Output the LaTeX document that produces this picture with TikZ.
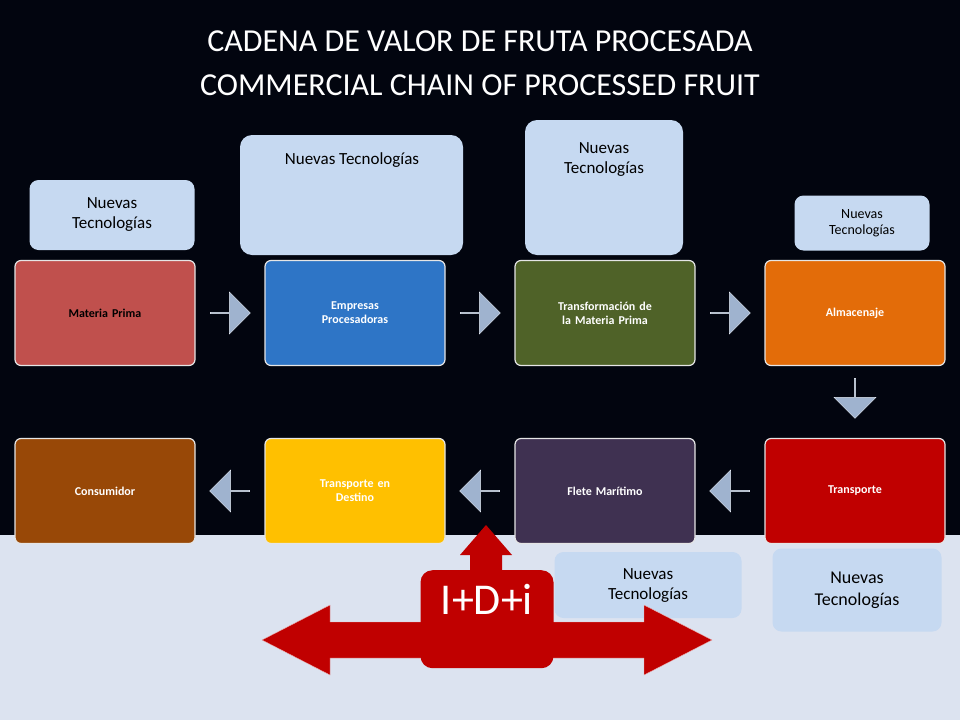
\documentclass[tikz,border=0pt]{standalone}
\usepackage{fontspec}
\setmainfont{Carlito}
\usetikzlibrary{shapes.arrows}
\definecolor{navy}{HTML}{02050F}
\definecolor{pale}{HTML}{DCE3F0}
\definecolor{techblue}{HTML}{C6D9F1}
\definecolor{chev}{HTML}{9FB3CF}
\definecolor{cRed}{HTML}{C0504D}
\definecolor{cBlue}{HTML}{2E75C6}
\definecolor{cOlive}{HTML}{4F6228}
\definecolor{cOrange}{HTML}{E36C09}
\definecolor{cBrown}{HTML}{984807}
\definecolor{cYellow}{HTML}{FFC000}
\definecolor{cPurple}{HTML}{3F3151}
\definecolor{cDark}{HTML}{C00000}
\tikzset{
  stage/.style={draw=white!80!gray, line width=1.2pt, rounded corners=6pt,
    minimum width=180pt, minimum height=105pt, text width=150pt, align=center,
    text=white, font=\fontsize{12}{14}\selectfont\bfseries},
  tech/.style={fill=techblue, rounded corners=9pt, align=center,
    font=\fontsize{17}{20}\selectfont},
  chevron/.style={single arrow, fill=chev, draw=white!70!chev,
    minimum width=42pt, single arrow head extend=6pt, minimum height=40pt,
    inner sep=0pt}
}
\begin{document}
\begin{tikzpicture}[x=1pt,y=-1pt]
  \useasboundingbox (0,0) rectangle (960,720);
  \fill[navy] (0,0) rectangle (960,535);
  \fill[pale] (0,535) rectangle (960,720);

  % title
  \node[text=white, align=center, font=\fontsize{32}{44}\selectfont] (title)
    at (480,63) {CADENA DE VALOR DE FRUTA PROCESADA\\COMMERCIAL CHAIN OF PROCESSED FRUIT};

  % first row
  \node[stage, fill=cRed, text=black] (materia) at (105,313) {Materia Prima};
  \node[stage, fill=cBlue] (empresas) at (355,313) {Empresas\\Procesadoras};
  \node[stage, fill=cOlive] (transf) at (605,313) {Transformación de la Materia Prima};
  \node[stage, fill=cOrange] (almac) at (855,313) {Almacenaje};

  % second row
  \node[stage, fill=cBrown] (consum) at (105,491) {Consumidor};
  \node[stage, fill=cYellow] (destino) at (355,491) {Transporte en\\Destino};
  \node[stage, fill=cPurple] (flete) at (605,491) {Flete Marítimo};
  \node[stage, fill=cDark] (transp) at (855,491) {Transporte};

  % chevrons
  \node[chevron] (a1) at (230,313) {};
  \node[chevron] (a2) at (480,313) {};
  \node[chevron] (a3) at (730,313) {};
  \node[chevron, shape border rotate=270] (a4) at (855,398) {};
  \node[chevron, shape border rotate=180] (a5) at (730,491) {};
  \node[chevron, shape border rotate=180] (a6) at (480,491) {};
  \node[chevron, shape border rotate=180] (a7) at (230,491) {};

  % Nuevas Tecnologias
  \node[tech, minimum width=165pt, minimum height=70pt] (t1) at (112,215) {Nuevas\\Tecnologías};
  \fill[techblue, rounded corners=12pt] (240,135) rectangle (463,255);
  \node[tech] (t2) at (352,160) {Nuevas Tecnologías};
  \fill[techblue, rounded corners=12pt] (525,120) rectangle (683,255);
  \node[tech] (t3) at (604,160) {Nuevas\\Tecnologías};
  \node[tech, minimum width=135pt, minimum height=55pt, font=\fontsize{14}{16}\selectfont]
    (t4) at (862,223) {Nuevas\\Tecnologías};
  \node[tech, minimum width=187pt, minimum height=66pt] (t5) at (648,585) {Nuevas\\Tecnologías};
  \node[tech, minimum width=169pt, minimum height=83pt, font=\fontsize{18}{22}\selectfont]
    (t6) at (857,590) {Nuevas\\Tecnologías};

  % I+D+i
  \fill[cDark, draw=white!70!cDark] (262,640) -- (330,605) -- (330,622) -- (644,622)
    -- (644,605) -- (712,640) -- (644,675) -- (644,658) -- (330,658) -- (330,675) -- cycle;
  \fill[cDark] (470,575) -- (470,555) -- (460,555) -- (486,525) -- (512,555)
    -- (502,555) -- (502,575) -- cycle;
  \node[fill=cDark, rounded corners=12pt, minimum width=133pt, minimum height=98pt,
    text=white, font=\fontsize{44}{48}\selectfont, anchor=north, inner sep=4pt,
    text depth=40pt] (idi) at (487,570) {I+D+i};
\end{tikzpicture}
\end{document}
